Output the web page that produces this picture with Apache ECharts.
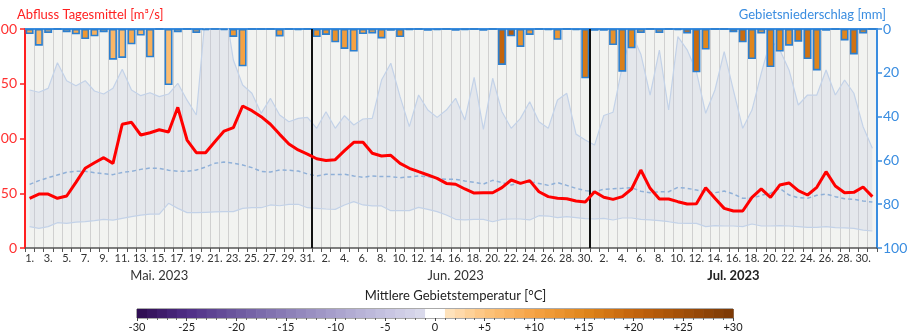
<!DOCTYPE html>
<html>
<head>
<meta charset="utf-8">
<script src="https://cdn.jsdelivr.net/npm/echarts@6/dist/echarts.min.js"></script>
<style>
  html, body { margin: 0; padding: 0; background: #ffffff; }
  #chart { width: 911px; height: 336px; }
</style>
</head>
<body>
<div id="chart"></div>
<script>
// ---- Months shown on the time axis ----
const monthNames = ['Mai. 2023', 'Jun. 2023', 'Jul. 2023'];
const monthDays = [31, 30, 31];
const monthLabelDay = [15, 16, 16];   // day under which each month name sits
const boldMonth = 2;                  // current month is written bold

// ---- Daily discharge, m³/s ----
const discharge = [
  45.4, 49.3, 49.3, 45.4, 47.5, 60.0, 72.8, 77.9, 82.5, 77.3, 113.0, 114.8, 103.2, 105.3, 108.0, 106.0,
  128.5, 98.6, 87.0, 87.0, 97.0, 106.8, 109.9, 129.7, 125.4, 119.9, 113.0, 103.8, 95.0, 89.5, 85.8,
  81.5, 80.0, 80.7, 88.9, 96.5, 96.5, 86.5, 84.0, 84.6, 77.3, 72.8, 69.7, 66.7, 63.6, 59.0,
  58.2, 53.9, 50.2, 50.5, 50.5, 55.1, 62.1, 59.0, 61.5, 51.4, 46.9, 45.4, 45.0, 42.9, 42.0,
  51.4, 46.3, 44.4, 46.9, 53.9, 71.2, 54.5, 44.7, 44.7, 42.3, 40.2, 40.5, 55.1, 45.4, 36.2, 33.8,
  33.8, 46.3, 53.9, 46.3, 57.5, 59.4, 52.4, 48.4, 55.4, 69.7, 56.6, 50.5, 50.8, 55.7, 46.9
];

// ---- Long-term mean discharge for each day, m³/s ----
const meanDischarge = [
  58.1, 61.5, 64.2, 66.7, 69.1, 70.0, 70.0, 68.8, 67.9, 67.0, 69.0, 70.0, 71.8, 73.0, 72.8, 71.0,
  70.0, 70.0, 71.2, 74.0, 77.3, 78.5, 77.6, 75.8, 73.4, 70.0, 69.4, 71.2, 71.0, 70.3, 67.6,
  65.8, 67.3, 67.0, 67.3, 65.8, 64.6, 65.8, 65.2, 65.2, 64.2, 64.9, 65.8, 65.2, 63.6, 62.7,
  62.7, 61.2, 60.0, 58.4, 61.8, 59.7, 57.5, 59.7, 60.6, 59.0, 57.2, 59.7, 57.2, 54.5, 52.4,
  51.4, 53.6, 54.2, 54.5, 55.1, 51.8, 50.5, 51.4, 51.4, 55.4, 54.5, 53.0, 51.1, 50.5, 52.0, 49.3,
  45.4, 45.4, 48.1, 50.0, 54.5, 48.4, 45.9, 45.4, 48.1, 49.3, 46.9, 45.0, 44.4, 42.9, 42.0
];

// ---- Long-term minimum discharge for each day, m³/s ----
const minDischarge = [
  19.5, 18.0, 19.5, 23.1, 22.5, 23.7, 24.0, 25.0, 26.2, 25.5, 27.1, 28.6, 30.1, 31.0, 31.0, 40.8,
  36.2, 32.3, 32.3, 32.6, 32.9, 33.2, 33.2, 36.2, 36.8, 36.8, 39.3, 38.6, 39.9, 39.9, 36.8,
  36.2, 35.6, 35.3, 39.3, 42.3, 39.3, 38.4, 38.4, 34.1, 34.1, 34.1, 37.1, 35.3, 33.2, 30.1,
  26.2, 25.6, 26.2, 26.2, 24.0, 26.2, 26.5, 26.5, 25.6, 29.5, 29.2, 27.7, 28.6, 27.7, 26.8,
  26.5, 27.0, 25.6, 27.4, 27.4, 26.2, 25.6, 25.0, 24.0, 22.8, 22.5, 22.5, 19.5, 20.4, 20.1, 20.1,
  19.5, 21.9, 20.1, 20.1, 20.4, 20.1, 19.5, 18.9, 18.9, 19.5, 18.6, 18.3, 18.0, 16.4, 15.5
];

// ---- Long-term maximum discharge for each day, m³/s ----
const maxDischarge = [
  144.3, 142.2, 145.8, 169.2, 152.8, 148.2, 152.8, 143.4, 140.6, 145.8, 163.2, 144.3, 139.1, 141.8, 138.2, 140.6,
  150.4, 135.0, 121.5, 215.0, 240.0, 225.0, 171.7, 148.9, 141.3, 123.0, 136.7, 121.5, 115.3, 118.4, 119.3,
  109.3, 124.5, 109.3, 120.8, 112.3, 117.8, 118.4, 153.4, 168.7, 138.2, 110.8, 139.7, 126.0, 119.3, 126.0,
  136.7, 116.9, 155.9, 108.4, 155.0, 124.5, 109.3, 118.4, 133.6, 115.3, 109.3, 135.2, 141.3, 104.0, 98.6,
  94.0, 121.0, 124.0, 166.0, 196.0, 177.0, 139.7, 180.8, 126.0, 193.0, 181.0, 161.0, 123.0, 144.3, 179.3, 144.0,
  109.3, 126.0, 159.5, 190.0, 181.0, 162.6, 130.6, 139.7, 139.7, 162.6, 139.7, 153.4, 141.3, 110.8, 91.0
];

// ---- Daily areal precipitation, mm ----
const precipitation = [
  2.3, 7.6, 1.8, 0, 1.5, 2.4, 4.6, 3.3, 1.5, 14.0, 13.2, 7.0, 3.0, 12.9, 0, 25.6,
  1.5, 0, 1.8, 0.5, 0, 0.5, 3.6, 17.0, 0, 0, 0, 3.4, 0, 0.5, 0,
  3.7, 2.7, 6.1, 9.1, 10.3, 2.3, 2.0, 4.3, 0.8, 3.7, 0.3, 0, 0.8, 0.4, 0,
  0.8, 0.3, 0, 0.8, 0, 16.4, 3.3, 8.2, 2.7, 0, 0.4, 4.9, 0, 0.4, 22.5,
  0.8, 0.8, 7.3, 19.5, 8.8, 1.8, 0, 1.8, 0, 0.5, 2.0, 19.8, 9.4, 0, 0, 1.5,
  6.1, 13.7, 2.0, 17.4, 10.3, 7.6, 5.8, 13.7, 18.9, 0.8, 0, 5.2, 11.6, 2.0, 0
];

// ---- Daily mean areal temperature, °C ----
const temperature = [
  9, 7, 7, 8, 7, 9, 12, 8, 8, 7, 6, 9, 7, 8, 9, 6,
  7, 9, 9, 11, 12, 13, 12, 10, 12, 13, 13, 11, 13, 14, 14,
  13, 13, 13, 11, 10, 10, 10, 12, 14, 14, 15, 16, 16, 17, 17,
  16, 17, 18, 18, 19, 20, 22, 13, 11, 13, 15, 12, 15, 17, 17,
  16, 16, 13, 16, 15, 11, 13, 11, 14, 17, 19, 19, 15, 14, 16, 19,
  19, 15, 11, 16, 15, 13, 17, 18, 15, 16, 16, 15, 18, 15, 14
];

// ---- Temperature colour scale ----
const tempColorStops = [
  [-30, '#2d0a4e'], [-25, '#4e2d85'], [-20, '#6c589f'], [-15, '#8a7db6'],
  [-10, '#a8a1cc'], [-5, '#c5c2e0'], [-1, '#dcdcec'],
  [1, '#fee6c4'], [5, '#fdc47e'], [10, '#f5a243'], [15, '#e0861c'],
  [20, '#c3640c'], [25, '#a04e08'], [30, '#7a3806']
];
const tempScaleMin = -30;
const tempScaleMax = 30;

const FONT = 'Lato, "Open Sans", sans-serif';
const RED = '#ff2020';
const BLUE = '#3a8de0';

function hexToRgb(h) {
  return [parseInt(h.slice(1, 3), 16), parseInt(h.slice(3, 5), 16), parseInt(h.slice(5, 7), 16)];
}
function tempColor(t) {
  if (t > -1 && t < 1) return '#ffffff';
  const s = tempColorStops;
  if (t <= s[0][0]) return s[0][1];
  if (t >= s[s.length - 1][0]) return s[s.length - 1][1];
  for (let i = 0; i < s.length - 1; i++) {
    const a = s[i], b = s[i + 1];
    if (t >= a[0] && t <= b[0]) {
      const f = (t - a[0]) / (b[0] - a[0]);
      const ca = hexToRgb(a[1]), cb = hexToRgb(b[1]);
      const c = ca.map((v, k) => Math.round(v + (cb[k] - v) * f));
      return 'rgb(' + c.join(',') + ')';
    }
  }
  return '#ffffff';
}

// Category labels "1.", "2.", ... across the months
const dayLabels = [];
const monthLabelIndex = {};
let offset = 0;
monthDays.forEach((n, m) => {
  for (let d = 1; d <= n; d++) dayLabels.push(d + '.');
  monthLabelIndex[offset + monthLabelDay[m] - 1] = m;
  offset += n;
});
const monthStarts = [];
let acc = 0;
for (let m = 0; m < monthDays.length - 1; m++) { acc += monthDays[m]; monthStarts.push(acc); }

// Band between daily minimum and maximum (stacked)
const bandWidth = maxDischarge.map((v, i) => +(v - minDischarge[i]).toFixed(1));

// Precipitation bars coloured by temperature
const precipBars = precipitation.map((v, i) => ({
  value: v,
  itemStyle: { color: tempColor(temperature[i]) }
}));

// Colour-bar bins (one per degree)
const colorBins = [];
for (let t = tempScaleMin; t < tempScaleMax; t++) colorBins.push([t]);

const chart = echarts.init(document.getElementById('chart'), null, { renderer: 'canvas' });

chart.setOption({
  animation: false,
  textStyle: { fontFamily: FONT },
  grid: [
    { left: 25, right: 34, top: 29, bottom: 88, show: true, backgroundColor: '#f2f3f1', borderWidth: 0,
      containLabel: false, outerBoundsMode: 'none' },
    { left: 137, right: 178, top: 309, height: 9, show: true, backgroundColor: 'transparent', borderColor: '#555', borderWidth: 1,
      containLabel: false, outerBoundsMode: 'none' }
  ],
  xAxis: [
    {
      type: 'category', gridIndex: 0, data: dayLabels, boundaryGap: true,
      axisLine: { lineStyle: { color: '#555', width: 1.5 } },
      axisTick: { show: true, interval: 0, length: 4, lineStyle: { color: '#555' } },
      axisLabel: { interval: 1, fontSize: 11, color: '#333', margin: 5, fontFamily: FONT },
      splitLine: { show: true, interval: 0, lineStyle: { color: '#d0d0d0', width: 1 } }
    },
    {
      type: 'value', gridIndex: 0, min: 0, max: dayLabels.length, position: 'top',
      axisLine: { show: true, onZero: false, lineStyle: { color: BLUE, width: 2 } },
      axisTick: { show: false }, axisLabel: { show: false }, splitLine: { show: false }
    },
    {
      type: 'category', gridIndex: 0, data: dayLabels, position: 'bottom',
      axisLine: { show: false }, axisTick: { show: false }, splitLine: { show: false },
      axisLabel: {
        margin: 21,
        interval: (idx) => monthLabelIndex[idx] !== undefined,
        formatter: (val, idx) => {
          const m = monthLabelIndex[idx];
          if (m === undefined) return '';
          return m === boldMonth ? '{b|' + monthNames[m] + '}' : '{n|' + monthNames[m] + '}';
        },
        rich: {
          n: { fontSize: 13, color: '#333', fontFamily: FONT },
          b: { fontSize: 13, color: '#222', fontWeight: 'bold', fontFamily: FONT }
        }
      }
    },
    {
      type: 'value', gridIndex: 1, min: tempScaleMin, max: tempScaleMax, interval: 5,
      axisLine: { show: false },
      axisTick: { show: true, length: 3, lineStyle: { color: '#444' } },
      minorTick: { show: true, splitNumber: 5, length: 2, lineStyle: { color: '#666' } },
      splitLine: { show: false },
      axisLabel: {
        fontSize: 11, color: '#222', margin: 4, fontFamily: FONT,
        formatter: (v) => (v > 0 ? '+' + v : String(v))
      }
    }
  ],
  yAxis: [
    {
      type: 'value', gridIndex: 0, min: 0, max: 200, interval: 50, position: 'left',
      axisLine: { show: true, lineStyle: { color: RED, width: 2 } },
      axisTick: { show: true, length: 5, lineStyle: { color: RED, width: 1.5 } },
      axisLabel: { color: '#ff3030', fontSize: 14, margin: 8, fontFamily: FONT },
      splitLine: { show: false }
    },
    {
      type: 'value', gridIndex: 0, min: 0, max: 100, interval: 20, inverse: true, position: 'right',
      axisLine: { show: true, lineStyle: { color: BLUE, width: 2 } },
      axisTick: { show: true, length: 5, lineStyle: { color: BLUE, width: 1.5 } },
      axisLabel: { color: BLUE, fontSize: 14, margin: 6, fontFamily: FONT },
      splitLine: { show: false }
    },
    { type: 'value', gridIndex: 1, min: 0, max: 1, show: false }
  ],
  series: [
    {
      name: 'Min', type: 'line', xAxisIndex: 0, yAxisIndex: 0, stack: 'band',
      data: minDischarge, symbol: 'none', z: 2,
      lineStyle: { color: '#c3d2e8', width: 1.2 }
    },
    {
      name: 'Max', type: 'line', xAxisIndex: 0, yAxisIndex: 0, stack: 'band',
      data: bandWidth, symbol: 'none', z: 2,
      lineStyle: { color: '#c3d2e8', width: 1.2 },
      areaStyle: { color: 'rgba(190,200,225,0.38)', origin: 'auto' }
    },
    {
      name: 'Mittel', type: 'line', xAxisIndex: 0, yAxisIndex: 0,
      data: meanDischarge, symbol: 'none', z: 3,
      lineStyle: { color: '#8fb0d8', width: 1.5, type: [4, 3] }
    },
    {
      name: 'Niederschlag', type: 'bar', xAxisIndex: 0, yAxisIndex: 1,
      data: precipBars, barWidth: '86%', z: 4,
      itemStyle: { borderColor: '#2b7fd0', borderWidth: 1.6 }
    },
    {
      name: 'Abfluss', type: 'line', xAxisIndex: 0, yAxisIndex: 0,
      data: discharge, symbol: 'none', z: 6,
      lineStyle: { color: '#ff0000', width: 3 }
    },
    {
      name: 'Monatswechsel', type: 'line', xAxisIndex: 1, yAxisIndex: 0, data: [], z: 7,
      markLine: {
        silent: true, symbol: 'none', animation: false,
        label: { show: false },
        lineStyle: { color: '#111', width: 2, type: 'solid' },
        data: monthStarts.map(v => ({ xAxis: v }))
      }
    },
    {
      name: 'Temperaturskala', type: 'custom', xAxisIndex: 3, yAxisIndex: 2,
      data: colorBins, encode: { x: 0 },
      renderItem: (params, api) => {
        const t = api.value(0);
        const p0 = api.coord([t, 1]);
        const p1 = api.coord([t + 1, 0]);
        return {
          type: 'rect',
          shape: { x: p0[0], y: p0[1], width: p1[0] - p0[0] + 0.6, height: p1[1] - p0[1] },
          style: { fill: tempColor(t + 0.5) }
        };
      }
    }
  ],
  graphic: [
    {
      type: 'text', left: 17, top: 8,
      style: { text: 'Abfluss Tagesmittel [m³/s]', fill: RED, font: '13px ' + FONT }
    },
    {
      type: 'text', right: 25, top: 8,
      style: { text: 'Gebietsniederschlag [mm]', fill: BLUE, font: '13px ' + FONT }
    },
    {
      type: 'text', left: 'center', top: 289, x: -20,
      style: { text: 'Mittlere Gebietstemperatur [°C]', fill: '#222', font: '13px ' + FONT }
    }
  ]
});
</script>
</body>
</html>
